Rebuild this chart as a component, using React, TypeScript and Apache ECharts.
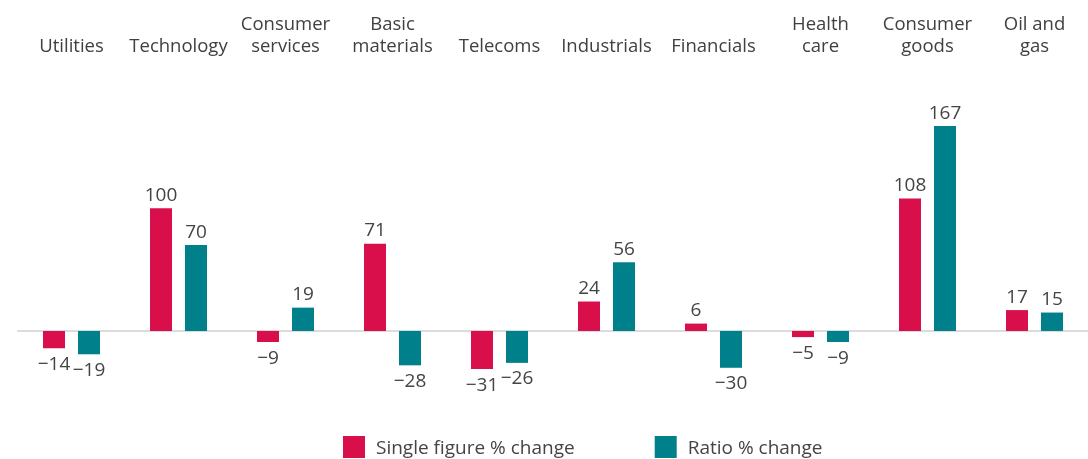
import React, { useEffect, useRef } from "react";
import * as echarts from "echarts";

const categories = [
  "Utilities",
  "Technology",
  "Consumer\nservices",
  "Basic\nmaterials",
  "Telecoms",
  "Industrials",
  "Financials",
  "Health\ncare",
  "Consumer\ngoods",
  "Oil and\ngas",
];
const singleFigure = [-14, 100, -9, 71, -31, 24, 6, -5, 108, 17];
const ratio = [-19, 70, 19, -28, -26, 56, -30, -9, 167, 15];
const seriesNames = ["Single figure % change", "Ratio % change"];
const colors = ["#D80F4A", "#00808A"];

const FONT = "'Open Sans', sans-serif";
const fmt = (v: number) => (v < 0 ? "\u2212" + Math.abs(v) : String(v));

export default function App() {
  const ref = useRef<HTMLDivElement>(null);
  useEffect(() => {
    if (!ref.current) return;
    const chart = echarts.init(ref.current, undefined, { renderer: "svg" });
    const mk = (vals: number[]) =>
      vals.map((v) => ({
        value: v,
        label: { position: v < 0 ? "bottom" : "top" },
      }));
    chart.setOption({
      animation: false,
      textStyle: { fontFamily: FONT },
      grid: { left: 18, right: -6, top: 85.5, bottom: 54.4 },
      legend: {
        left: 343,
        top: 436,
        padding: 0,
        icon: "rect",
        itemWidth: 22,
        itemHeight: 22,
        itemGap: 80,
        data: seriesNames,
        textStyle: {
          fontFamily: FONT,
          fontSize: 19,
          lineHeight: 22,
          color: "#444",
          padding: [0, 0, 0, 6],
        },
        selectedMode: false,
      },
      xAxis: [
        {
          type: "category",
          data: categories,
          axisLine: { onZero: true, lineStyle: { color: "#dcdcdc", width: 2 } },
          axisTick: { show: false },
          axisLabel: { show: false },
        },
        {
          type: "category",
          data: categories,
          position: "top",
          axisLine: { show: false },
          axisTick: { show: false },
          axisLabel: {
            interval: 0,
            margin: 30,
            fontFamily: FONT,
            fontSize: 18.5,
            lineHeight: 22,
            color: "#404040",
          },
        },
      ],
      yAxis: {
        type: "value",
        min: -60,
        max: 200,
        show: false,
        splitLine: { show: false },
      },
      series: [0, 1].map((i) => ({
        name: seriesNames[i],
        type: "bar",
        xAxisIndex: 0,
        barWidth: 22,
        barGap: "59%",
        itemStyle: { color: colors[i] },
        label: {
          show: true,
          distance: 5,
          fontFamily: FONT,
          fontSize: 19,
          color: "#444",
          formatter: (p: any) => fmt(p.value),
        },
        data: mk(i === 0 ? singleFigure : ratio),
      })),
    });
    return () => chart.dispose();
  }, []);
  return (
    <div
      ref={ref}
      style={{ position: "fixed", left: 0, top: 0, width: 1088, height: 459 }}
    />
  );
}
